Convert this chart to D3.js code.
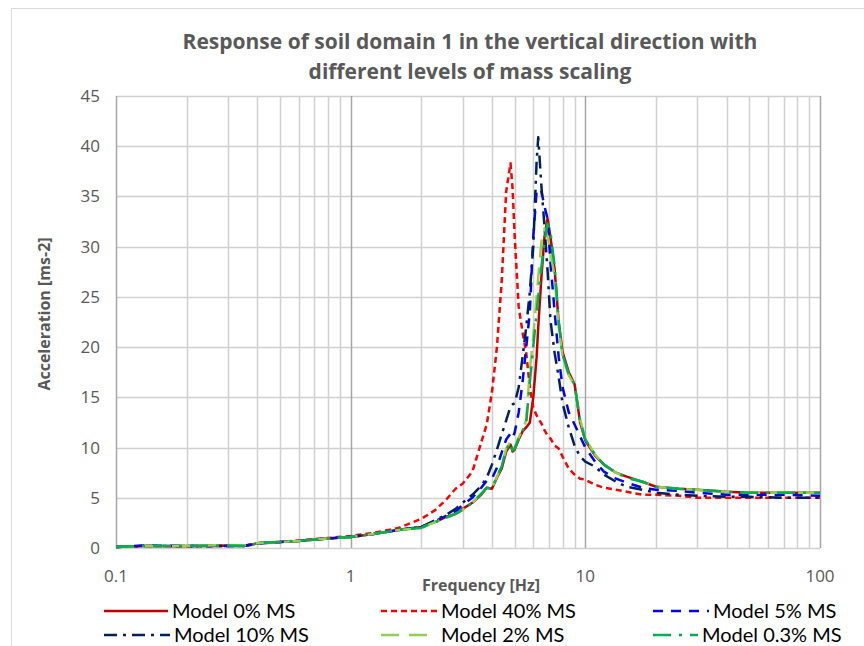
<!DOCTYPE html>
<html>
<head>
<meta charset="utf-8">
<script src="https://cdn.jsdelivr.net/npm/d3@7"></script>
<style>
  body { margin: 0; background: #fff; }
  svg text { font-family: "Open Sans", Lato, sans-serif; fill: #595959; }
</style>
</head>
<body>
<svg id="chart" width="864" height="646"></svg>
<script>
(function () {
    'use strict';

    // frequency grid shared by all series [Hz]
    var freq = [0.1, 0.13, 0.2, 0.3, 0.35, 0.41, 0.5, 0.6, 0.8, 1, 1.25, 1.6, 2, 2.3, 2.55, 2.8, 3, 3.3, 3.6, 3.8,
        4, 4.2, 4.4, 4.6, 4.8, 4.9, 5, 5.2, 5.4, 5.6, 5.8, 6, 6.2, 6.3, 6.5, 6.7, 6.9, 7.1, 7.4, 7.7,
        8, 8.5, 9, 9.5, 10, 11, 12, 13.5, 15, 17.5, 20, 25, 30, 40, 50, 70, 100];

    // acceleration [ms-2]
    var ms0 = [0.1, 0.2, 0.2, 0.25, 0.2, 0.5, 0.6, 0.7, 0.95, 1.1, 1.4, 1.8, 2.1, 2.6, 3.1, 3.4, 3.9, 4.5, 5.3, 6.0,
        5.9, 7.0, 7.9, 9.6, 10.3, 9.6, 9.8, 10.8, 11.6, 12.0, 12.5, 15.0, 19.0, 22.0, 27.0, 31.0, 32.8, 31.0, 27.7, 22.5,
        19.5, 17.5, 16.3, 12.5, 10.7, 9.2, 8.3, 7.5, 7.1, 6.6, 6.1, 5.9, 5.8, 5.6, 5.5, 5.5, 5.5];
    var ms40 = [0.1, 0.2, 0.15, 0.2, 0.25, 0.5, 0.6, 0.75, 1.0, 1.2, 1.5, 2.0, 2.9, 3.8, 4.8, 5.9, 6.4, 7.6, 10.5, 12.3,
        15.5, 20.0, 26.5, 35.5, 38.3, 35.7, 31.0, 24.0, 21.5, 19.4, 16.0, 14.0, 13.2, 12.9, 12.4, 11.7, 11.2, 10.9, 10.2, 9.9,
        9.1, 7.9, 7.3, 6.9, 6.8, 6.3, 6.0, 5.8, 5.6, 5.3, 5.3, 5.2, 5.0, 5.0, 5.0, 5.0, 5.0];
    var ms5 = [0.1, 0.25, 0.2, 0.2, 0.2, 0.45, 0.6, 0.7, 0.95, 1.1, 1.4, 1.8, 2.1, 2.7, 3.2, 3.6, 4.3, 5.0, 6.0, 6.7,
        6.9, 8.0, 9.5, 10.8, 11.4, 11.0, 11.5, 13.5, 16.5, 20.0, 23.5, 31.0, 35.5, 35.8, 35.5, 34.0, 32.8, 28.5, 23.5, 19.0,
        16.0, 13.5, 12.3, 11.1, 10.0, 8.6, 7.6, 6.9, 6.5, 6.0, 5.8, 5.7, 5.5, 5.3, 5.3, 5.3, 5.2];
    var ms10 = [0.1, 0.2, 0.2, 0.2, 0.2, 0.5, 0.6, 0.7, 0.95, 1.1, 1.4, 1.8, 2.1, 2.8, 3.3, 3.9, 4.5, 5.3, 6.2, 7.0,
        8.3, 9.8, 11.3, 12.7, 14.1, 14.3, 14.4, 16.0, 19.0, 22.0, 25.5, 30.0, 38.5, 40.9, 36.0, 32.0, 27.7, 22.7, 19.4, 17.0,
        14.4, 12.0, 10.2, 9.1, 8.6, 8.1, 7.3, 6.6, 6.1, 5.8, 5.5, 5.3, 5.2, 5.1, 5.1, 5.0, 5.0];
    var ms2 = [0.1, 0.2, 0.2, 0.3, 0.25, 0.5, 0.6, 0.7, 0.95, 1.1, 1.4, 1.8, 2.0, 2.6, 3.0, 3.4, 3.8, 4.5, 5.4, 6.0,
        6.0, 7.1, 8.2, 9.9, 10.6, 9.8, 10.0, 11.0, 11.8, 12.7, 17.7, 21.0, 25.0, 27.0, 30.5, 31.8, 31.0, 29.5, 27.0, 22.0,
        19.0, 17.2, 16.2, 12.8, 10.9, 9.3, 8.3, 7.5, 7.0, 6.6, 6.1, 5.9, 5.8, 5.6, 5.5, 5.5, 5.5];
    var ms03 = [0.1, 0.2, 0.2, 0.25, 0.2, 0.5, 0.6, 0.7, 0.95, 1.1, 1.4, 1.8, 2.0, 2.6, 3.0, 3.4, 3.8, 4.5, 5.4, 6.0,
        5.9, 7.1, 8.1, 9.8, 10.5, 9.7, 9.9, 10.9, 11.7, 12.5, 16.5, 20.0, 23.5, 25.0, 28.0, 30.5, 32.3, 31.5, 28.0, 22.5,
        19.2, 17.3, 16.3, 12.6, 10.8, 9.3, 8.3, 7.5, 7.0, 6.6, 6.1, 5.9, 5.8, 5.6, 5.5, 5.5, 5.5];

    var seriesNames = ['Model 0% MS', 'Model 40% MS', 'Model 5% MS', 'Model 10% MS', 'Model 2% MS', 'Model 0.3% MS'];
    var seriesData = [ms0, ms40, ms5, ms10, ms2, ms03];
    var seriesColors = ['#C00000', '#FF0000', '#0000FF', '#002060', '#92D050', '#00B050'];
    var seriesDash = ['none', '6,4', '10,8', '13,6,3,6', '18,10', '18,8,3,8'];

    var yTicks = [0, 5, 10, 15, 20, 25, 30, 35, 40, 45];
    var xTicks = [0.1, 1, 10, 100];

    var svg = d3.select('#chart');

    // chart frame
    svg.append('rect')
        .attr('x', 11.5).attr('y', 8.5)
        .attr('width', 870).attr('height', 660)
        .attr('fill', 'none').attr('stroke', '#D9D9D9');

    var margin = {left: 116, top: 96, right: 820, bottom: 548};

    var x = d3.scaleLog().domain([0.1, 100]).range([margin.left, margin.right]);
    var y = d3.scaleLinear().domain([0, 45]).range([margin.bottom, margin.top]);

    // minor vertical gridlines
    var minor = [];
    [0.1, 1, 10].forEach(function (d) {
        for (var k = 2; k <= 9; k++) minor.push(d * k);
    });
    svg.append('g').selectAll('line')
        .data(minor).enter().append('line')
        .attr('x1', d => Math.round(x(d)) + 0.5).attr('x2', d => Math.round(x(d)) + 0.5)
        .attr('y1', margin.top).attr('y2', margin.bottom)
        .attr('stroke', '#D0D0D0').attr('stroke-width', 1.5);

    // horizontal gridlines
    svg.append('g').selectAll('line')
        .data(yTicks).enter().append('line')
        .attr('x1', margin.left).attr('x2', margin.right)
        .attr('y1', d => Math.round(y(d)) + 0.5).attr('y2', d => Math.round(y(d)) + 0.5)
        .attr('stroke', '#D0D0D0').attr('stroke-width', 1.5);

    // major vertical gridlines
    svg.append('g').selectAll('line')
        .data(xTicks).enter().append('line')
        .attr('x1', d => Math.round(x(d)) + 0.5).attr('x2', d => Math.round(x(d)) + 0.5)
        .attr('y1', margin.top).attr('y2', margin.bottom)
        .attr('stroke', '#A6A6A6').attr('stroke-width', 1.5);

    // tick labels
    svg.append('g').selectAll('text')
        .data(yTicks).enter().append('text')
        .attr('x', 100).attr('y', d => y(d) + 6)
        .attr('text-anchor', 'end')
        .style('font-size', '17px')
        .text(d => d);

    svg.append('g').selectAll('text')
        .data(xTicks).enter().append('text')
        .attr('x', d => x(d)).attr('y', 582)
        .attr('text-anchor', 'middle')
        .style('font-size', '17px')
        .text(d => d);

    // series
    var line = d3.line()
        .x((d, i) => x(freq[i]))
        .y(d => y(d));

    svg.append('g').selectAll('path')
        .data(seriesData).enter().append('path')
        .attr('d', line)
        .attr('fill', 'none')
        .attr('stroke', (d, i) => seriesColors[i])
        .attr('stroke-width', 2.5)
        .attr('stroke-dasharray', (d, i) => seriesDash[i])
        .attr('stroke-linejoin', 'round');

    // titles
    svg.append('text')
        .attr('x', 470).attr('y', 49)
        .attr('text-anchor', 'middle')
        .style('font-size', '21px').style('font-weight', 'bold')
        .text('Response of soil domain 1 in the vertical direction with');
    svg.append('text')
        .attr('x', 470).attr('y', 79)
        .attr('text-anchor', 'middle')
        .style('font-size', '21px').style('font-weight', 'bold')
        .text('different levels of mass scaling');

    svg.append('text')
        .attr('transform', 'translate(50,314) rotate(-90)')
        .attr('text-anchor', 'middle')
        .style('font-size', '16px').style('font-weight', 'bold')
        .text('Acceleration [ms-2]');

    svg.append('text')
        .attr('x', 481).attr('y', 591)
        .attr('text-anchor', 'middle')
        .style('font-size', '16px').style('font-weight', 'bold')
        .text('Frequency [Hz]');

    // legend
    var legX = [104, 381, 653];
    var legY = [611, 635];
    var legTextX = [68, 60, 60, 70, 60, 49];
    var leg = svg.append('g').selectAll('g')
        .data(seriesNames).enter().append('g')
        .attr('transform', (d, i) => 'translate(' + legX[i % 3] + ',' + legY[Math.floor(i / 3)] + ')');
    leg.append('line')
        .attr('x1', 0).attr('x2', (d, i) => legTextX[i] - 4).attr('y1', 0).attr('y2', 0)
        .attr('stroke', (d, i) => seriesColors[i])
        .attr('stroke-width', 2.5)
        .attr('stroke-dasharray', (d, i) => seriesDash[i]);
    leg.append('text')
        .attr('x', (d, i) => legTextX[i]).attr('y', 7)
        .style('font-family', 'Lato, sans-serif')
        .style('font-size', '20px')
        .style('fill', '#000')
        .text(d => d);
}());
</script>
</body>
</html>
